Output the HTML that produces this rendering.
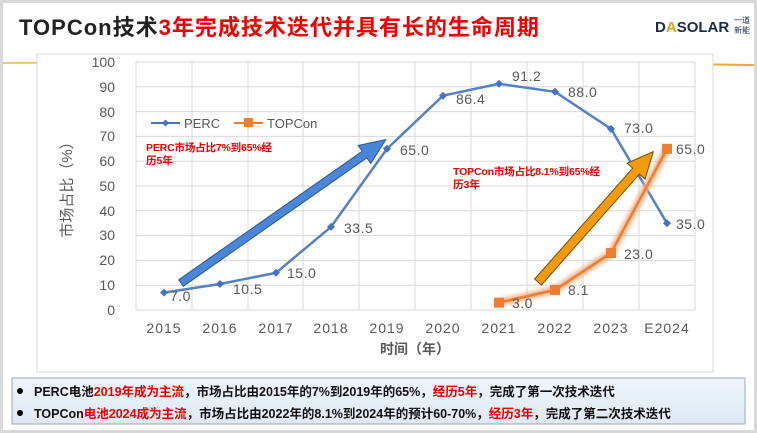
<!DOCTYPE html>
<html><head><meta charset="utf-8"><style>
body{margin:0;width:757px;height:433px;overflow:hidden;background:#d9d9d9;font-family:"Liberation Sans","Noto Sans CJK SC",sans-serif}
.page{position:absolute;left:3px;top:3px;width:751px;height:427px;background:#fff}
</style></head><body><div class="page"></div>
<svg width="757" height="433" style="position:absolute;left:0;top:0" font-family="Liberation Sans, Noto Sans CJK SC, sans-serif">
<defs>
<linearGradient id="gl" x1="0" x2="1"><stop offset="0" stop-color="#f3c27a"/><stop offset="0.5" stop-color="#e89a1c"/><stop offset="1" stop-color="#f0a830"/></linearGradient>
<linearGradient id="bx" x1="0" y1="0" x2="0" y2="1"><stop offset="0" stop-color="#eef4fb"/><stop offset="1" stop-color="#dfe9f5"/></linearGradient>
<filter id="gw"><feGaussianBlur stdDeviation="2"/></filter>
</defs>
<text x="19" y="35" font-size="22" font-weight="bold" fill="#222" letter-spacing="1">TOPCon技术<tspan fill="#e00">3年完成技术迭代并具有长的生命周期</tspan></text>
<text x="655" y="32" font-size="15" fill="#1d2b4f" font-weight="bold">D<tspan fill="#e0a020">A</tspan>SOLAR</text>
<text x="734" y="23" font-size="8" fill="#1d2b4f">一道</text>
<text x="734" y="33" font-size="8" fill="#1d2b4f">新能</text>
<path d="M3 63 Q380 60 754 65" stroke="url(#gl)" stroke-width="2" fill="none"/>
<rect x="37" y="54" width="676" height="318" fill="#fff" stroke="#d9d9d9"/>
<g stroke="#d9d9d9" stroke-width="1">
<line x1="136" y1="62" x2="695" y2="62"/><line x1="136" y1="86.8" x2="695" y2="86.8"/><line x1="136" y1="111.6" x2="695" y2="111.6"/><line x1="136" y1="136.4" x2="695" y2="136.4"/><line x1="136" y1="161.2" x2="695" y2="161.2"/><line x1="136" y1="186" x2="695" y2="186"/><line x1="136" y1="210.8" x2="695" y2="210.8"/><line x1="136" y1="235.6" x2="695" y2="235.6"/><line x1="136" y1="260.4" x2="695" y2="260.4"/><line x1="136" y1="285.2" x2="695" y2="285.2"/><line x1="136" y1="310" x2="695" y2="310"/>
<line x1="136" y1="62" x2="136" y2="310"/><line x1="192" y1="62" x2="192" y2="310"/><line x1="248" y1="62" x2="248" y2="310"/><line x1="303" y1="62" x2="303" y2="310"/><line x1="359" y1="62" x2="359" y2="310"/><line x1="415" y1="62" x2="415" y2="310"/><line x1="471" y1="62" x2="471" y2="310"/><line x1="527" y1="62" x2="527" y2="310"/><line x1="583" y1="62" x2="583" y2="310"/><line x1="639" y1="62" x2="639" y2="310"/><line x1="695" y1="62" x2="695" y2="310"/>
</g>
<g font-size="14" fill="#595959" text-anchor="end">
<text x="115" y="67">100</text><text x="115" y="92">90</text><text x="115" y="117">80</text><text x="115" y="141">70</text><text x="115" y="166">60</text><text x="115" y="191">50</text><text x="115" y="216">40</text><text x="115" y="240">30</text><text x="115" y="265">20</text><text x="115" y="290">10</text><text x="115" y="315">0</text>
</g>
<g font-size="14" fill="#595959" text-anchor="middle" letter-spacing="1">
<text x="164" y="333">2015</text><text x="220" y="333">2016</text><text x="276" y="333">2017</text><text x="331" y="333">2018</text><text x="387" y="333">2019</text><text x="443" y="333">2020</text><text x="499" y="333">2021</text><text x="555" y="333">2022</text><text x="611" y="333">2023</text><text x="667" y="333">E2024</text>
</g>
<text x="415" y="354" font-size="14" fill="#595959" text-anchor="middle" font-weight="bold">时间（年）</text>
<text transform="translate(72,186) rotate(-90)" font-size="15" fill="#595959" text-anchor="middle">市场占比（%）</text>
<polyline points="164,292.6 220,284 276,272.8 331,226.9 387,148.8 443,95.7 499,83.8 555,91.8 611,128.9 667,223.2" fill="none" stroke="#4472c4" stroke-width="2.5" stroke-opacity="0.9"/>
<g fill="#4472c4">
<path d="M164 288.6l4 4-4 4-4-4z"/><path d="M220 280l4 4-4 4-4-4z"/><path d="M276 268.8l4 4-4 4-4-4z"/><path d="M331 222.9l4 4-4 4-4-4z"/><path d="M387 144.8l4 4-4 4-4-4z"/><path d="M443 91.7l4 4-4 4-4-4z"/><path d="M499 79.8l4 4-4 4-4-4z"/><path d="M555 87.8l4 4-4 4-4-4z"/><path d="M611 124.9l4 4-4 4-4-4z"/><path d="M667 219.2l4 4-4 4-4-4z"/>
</g>
<polyline points="499,302.6 555,289.9 611,253 667,148.8" fill="none" stroke="#f4b183" stroke-width="7" filter="url(#gw)"/>
<polyline points="499,302.6 555,289.9 611,253 667,148.8" fill="none" stroke="#ed7d31" stroke-width="2.5"/>
<g fill="#ed7d31"><rect x="494" y="297.6" width="10" height="10"/><rect x="550" y="284.9" width="10" height="10"/><rect x="606" y="248" width="10" height="10"/><rect x="662" y="143.8" width="10" height="10"/></g>
<g font-size="14" fill="#595959" letter-spacing="0.5">
<text x="170" y="301">7.0</text><text x="233" y="294">10.5</text><text x="287" y="278">15.0</text><text x="344" y="233">33.5</text><text x="400" y="155">65.0</text><text x="456" y="104">86.4</text><text x="512" y="81">91.2</text><text x="568" y="97">88.0</text><text x="624" y="133">73.0</text><text x="676" y="229">35.0</text>
<text x="512" y="308">3.0</text><text x="568" y="295">8.1</text><text x="624" y="259">23.0</text><text x="676" y="154">65.0</text>
</g>
<line x1="151" y1="123" x2="180" y2="123" stroke="#4472c4" stroke-width="2"/><path d="M165.5 119.5l3.5 3.5-3.5 3.5-3.5-3.5z" fill="#4472c4"/>
<text x="184" y="128" font-size="13" fill="#595959">PERC</text>
<line x1="234" y1="123" x2="263" y2="123" stroke="#ed7d31" stroke-width="2"/><rect x="244" y="118" width="9" height="9" fill="#ed7d31"/>
<text x="267" y="128" font-size="13" fill="#595959">TOPCon</text>
<text x="146" y="151" font-size="10.5" font-weight="bold" fill="#e00" textLength="126">PERC市场占比7%到65%经</text>
<text x="146" y="164" font-size="10.5" font-weight="bold" fill="#e00">历5年</text>
<text x="453" y="175" font-size="10.5" font-weight="bold" fill="#e00" textLength="147">TOPCon市场占比8.1%到65%经</text>
<text x="453" y="188" font-size="10.5" font-weight="bold" fill="#e00">历3年</text>
<g transform="translate(181,283) rotate(-35)"><path d="M0 -4 L224 -4 L224 -11 L250 0 L224 11 L224 4 L0 4z" fill="#4a86d8" stroke="#2f5597" stroke-width="1"/></g>
<g transform="translate(538,282) rotate(-48.5)"><path d="M0 -4.5 L148 -4.5 L148 -12 L174 0 L148 12 L148 4.5 L0 4.5z" fill="#f59b0a" stroke="#7a4a00" stroke-width="1"/></g>
<rect x="12" y="378" width="733" height="46" fill="url(#bx)" stroke="#9aa7b8" stroke-width="1"/>
<circle cx="20" cy="391" r="3" fill="#000"/><circle cx="20" cy="413" r="3" fill="#000"/>
<text x="34" y="396" font-size="12.5" font-weight="bold" fill="#111">PERC电池<tspan fill="#e00">2019年成为主流</tspan>，市场占比由2015年的7%到2019年的65%，<tspan fill="#e00">经历5年</tspan>，完成了第一次技术迭代</text>
<text x="34" y="418" font-size="12.5" font-weight="bold" fill="#111">TOPCon<tspan fill="#e00">电池2024成为主流</tspan>，市场占比由2022年的8.1%到2024年的预计60-70%，<tspan fill="#e00">经历3年</tspan>，完成了第二次技术迭代</text>
</svg></body></html>
